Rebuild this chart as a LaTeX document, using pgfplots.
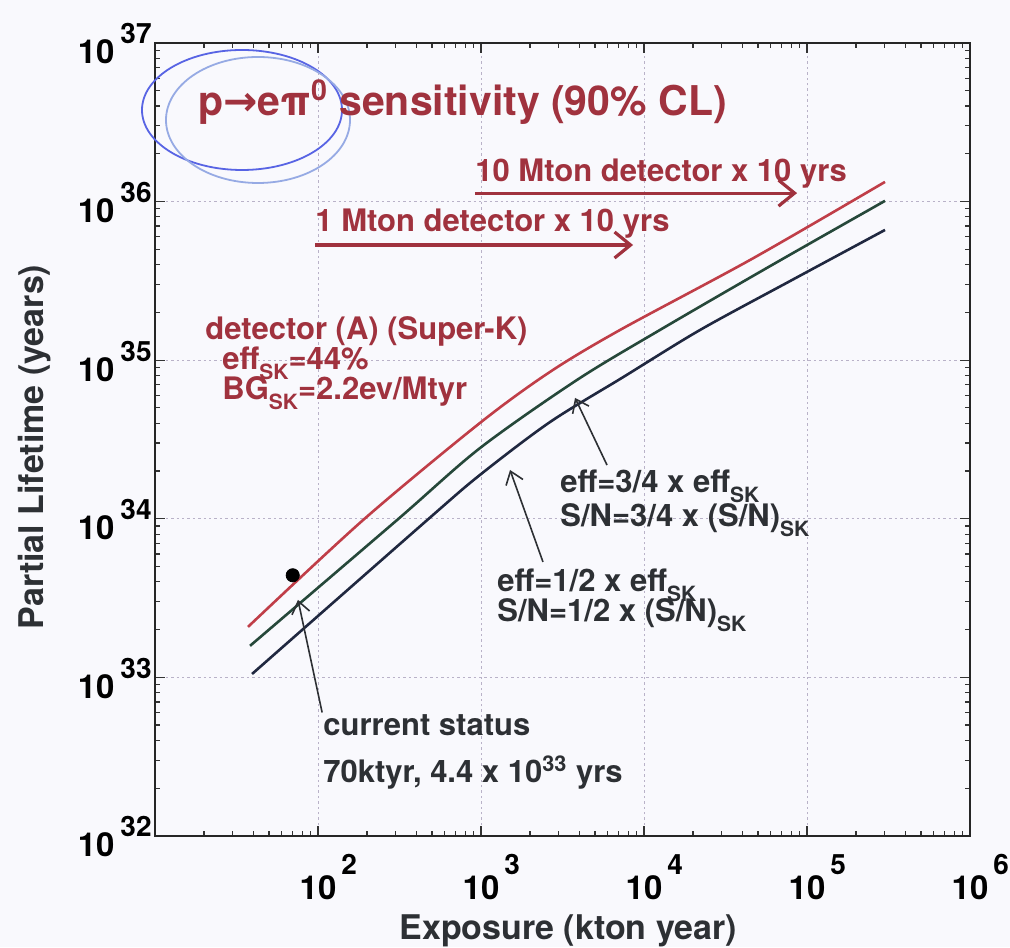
\documentclass[border=0pt]{standalone}
\usepackage{pgfplots}
\pgfplotsset{compat=1.18}
\usepackage{fontspec}
\setmainfont{TeX Gyre Heros}
\newfontfamily\djv{DejaVu Sans}
\usetikzlibrary{arrows.meta}
\definecolor{bgc}{RGB}{249,249,253}
\definecolor{tred}{RGB}{160,50,62}
\definecolor{cred}{RGB}{192,62,72}
\definecolor{cgreen}{RGB}{38,72,58}
\definecolor{cdark}{RGB}{32,40,64}
\definecolor{tdark}{RGB}{45,48,52}
\definecolor{blueA}{RGB}{88,100,228}
\definecolor{blueB}{RGB}{150,170,228}
\definecolor{gridc}{RGB}{185,178,200}
\newcommand{\xtl}[1]{10\rlap{\hspace{2.5pt}\raisebox{12.5pt}{\fontsize{14}{14}\selectfont\bfseries #1}}}
\newcommand{\ytl}[1]{10\hspace{3pt}\raisebox{10pt}{\fontsize{14}{14}\selectfont\bfseries #1}}
\newcommand{\sk}{\raisebox{-5pt}{\fontsize{10.5}{10.5}\selectfont\bfseries SK}}
\begin{document}
\bfseries
\begin{tikzpicture}
\fill[bgc] (-77.5pt,-55.5pt) rectangle (427.5pt,418pt);
\begin{axis}[
  at={(0pt,0pt)}, anchor=south west,
  scale only axis, width=407.5pt, height=396.5pt,
  xmode=log, ymode=log,
  xmin=10, xmax=1e6, ymin=1e32, ymax=1e37,
  xtick={10,100,1000,10000,100000,1000000},
  xticklabels={,\xtl{2},\xtl{3},\xtl{4},\xtl{5},\xtl{6}},
  ytick={1e32,1e33,1e34,1e35,1e36,1e37},
  yticklabels={\ytl{32},\ytl{33},\ytl{34},\ytl{35},\ytl{36},\ytl{37}},
  /pgf/number format/assume math mode=true,
  xticklabel style={anchor=base, inner sep=0pt, yshift=-32pt, font=\fontsize{16.5}{16.5}\selectfont\bfseries},
  yticklabel style={anchor=base east, inner sep=0pt, xshift=-1.5pt, yshift=-10.5pt, font=\fontsize{16.5}{16.5}\selectfont\bfseries},
  xlabel={Exposure (kton year)},
  xlabel style={at={(axis description cs:0.507,0)}, anchor=base, yshift=-52pt, font=\fontsize{17}{17}\selectfont\bfseries, text=tdark},
  ylabel={Partial Lifetime (years)},
  ylabel style={at={(axis description cs:-0.1374,0.4905)}, anchor=base, font=\fontsize{17}{17}\selectfont\bfseries, text=tdark},
  axis line style={line width=0.9pt, black!85},
  major tick length=5pt, minor tick length=2.5pt,
  tick style={line width=0.6pt, black!80},
  xmajorgrids, ymajorgrids,
  major grid style={gridc, line width=0.5pt, dash pattern=on 1.2pt off 1.5pt},
]
\addplot[cred, line width=1.3pt, smooth] coordinates {(37.2,2.08e33) (188.8,9.8e33) (986,4.02e34) (2650,8.43e34) (7130,1.55e35) (46000,4.35e35) (301000,1.33e36)};
\addplot[cgreen, line width=1.3pt, smooth] coordinates {(38.3,1.58e33) (305,9.8e33) (986,2.79e34) (3880,7.5e34) (12530,1.55e35) (61000,3.98e35) (301000,1.01e36)};
\addplot[cdark, line width=1.3pt, smooth] coordinates {(39.4,1.05e33) (467,9.8e33) (986,1.89e34) (2650,4.07e34) (7430,7.8e34) (22080,1.55e35) (80900,3.2e35) (301000,6.62e35)};
\addplot[only marks, mark=*, mark size=3.3pt, black] coordinates {(70,4.4e33)};
\draw[tdark, line width=0.8pt, -{Straight Barb[length=6pt,width=9pt]}] (axis cs:106,6.0e32) -- (axis cs:75.4,3.08e33);
\draw[tdark, line width=0.8pt, -{Straight Barb[length=6pt,width=9pt]}] (axis cs:5930,2.18e34) -- (axis cs:3776,5.78e34);
\draw[tdark, line width=0.8pt, -{Straight Barb[length=6pt,width=9pt]}] (axis cs:2400,5.34e33) -- (axis cs:1507,2.03e34);
\draw[tred, line width=1.6pt, -{Straight Barb[length=8pt,width=13pt]}] (axis cs:918,1.13e36) -- (axis cs:86900,1.13e36);
\draw[tred, line width=1.6pt, -{Straight Barb[length=8pt,width=13pt]}] (axis cs:96,5.32e35) -- (axis cs:8570,5.32e35);
\end{axis}
\draw[blueA, line width=0.9pt] (43.5pt,363pt) ellipse [x radius=50pt, y radius=30pt];
\draw[blueB, line width=0.9pt] (51.5pt,358pt) ellipse [x radius=46pt, y radius=31.5pt];
\node[anchor=base west, inner sep=0pt, text=tred, font=\fontsize{20.5}{20.5}\selectfont\bfseries] at (21.5pt,360pt) {p{\djv\bfseries →}eπ\textsuperscript{0} sensitivity (90\% CL)};
\begin{scope}[every node/.style={anchor=base west, inner sep=0pt, font=\fontsize{15.5}{15.5}\selectfont\bfseries}]
\node[text=tred] at (160pt,327pt) {10 Mton detector x 10 yrs};
\node[text=tred] at (80pt,302pt) {1 Mton detector x 10 yrs};
\node[text=tred] at (25pt,248pt) {detector (A) (Super-K)};
\node[text=tred] at (33.5pt,233pt) {eff\sk=44\%};
\node[text=tred] at (33.5pt,218pt) {BG\sk=2.2ev/Mtyr};
\node[text=tdark] at (202.5pt,171.5pt) {eff=3/4 x eff\sk};
\node[text=tdark] at (202.5pt,154.5pt) {S/N=3/4 x (S/N)\sk};
\node[text=tdark] at (171pt,122pt) {eff=1/2 x eff\sk};
\node[text=tdark] at (171pt,107pt) {S/N=1/2 x (S/N)\sk};
\node[text=tdark] at (84pt,50.5pt) {current status};
\node[text=tdark] at (84pt,27pt) {70ktyr, 4.4 x 10\textsuperscript{33} yrs};
\end{scope}
\pgfresetboundingbox
\useasboundingbox (-77.5pt,-55.5pt) rectangle (427.5pt,418pt);
\end{tikzpicture}
\end{document}
